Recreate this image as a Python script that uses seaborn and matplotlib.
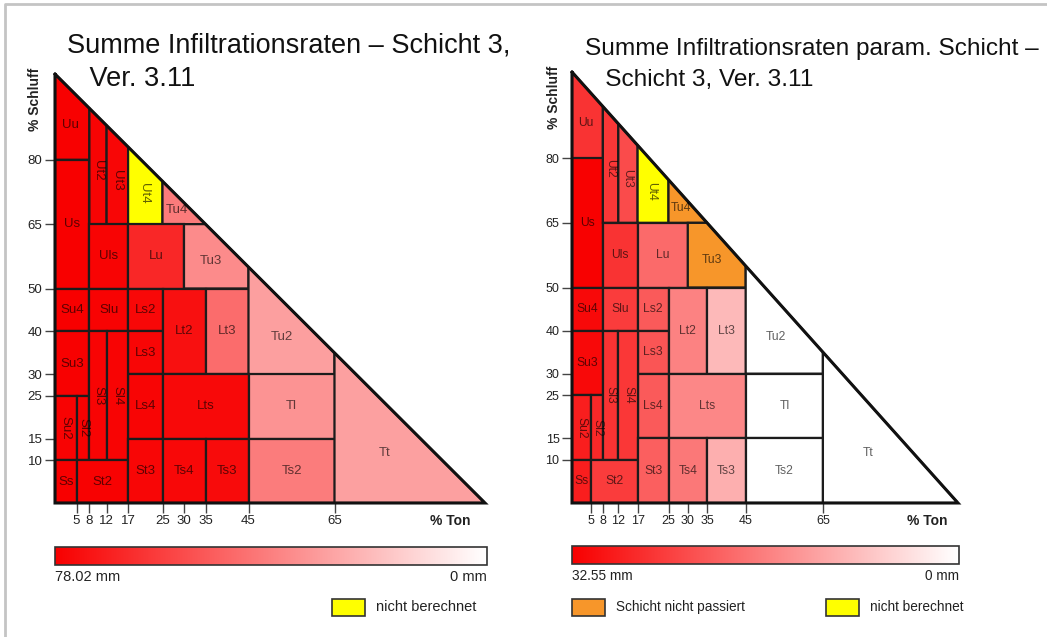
import numpy as np
import matplotlib
matplotlib.use("Agg")
import matplotlib.pyplot as plt
from matplotlib.patches import Polygon, Rectangle
from matplotlib.lines import Line2D
from matplotlib.cm import ScalarMappable
import seaborn as sns

# --- soil texture classes (KA5): clay (% Ton) on x, silt (% Schluff) on y ---
classes = ["Uu", "Us", "Ut2", "Ut3", "Ut4", "Tu4", "Uls", "Lu", "Tu3",
           "Su4", "Slu", "Ls2", "Ls3", "Ls4", "Lt2", "Lt3", "Tu2",
           "Su3", "Su2", "Sl2", "Sl3", "Sl4", "Ss", "St2", "St3",
           "Lts", "Ts4", "Ts3", "Tl", "Ts2", "Tt"]
clay_lo = [0, 0, 8, 12, 17, 25, 8, 17, 30, 0, 8, 17, 17, 17, 25, 35, 45,
           0, 0, 5, 8, 12, 0, 5, 17, 25, 25, 35, 45, 45, 65]
clay_hi = [8, 8, 12, 17, 25, 35, 17, 30, 45, 8, 17, 25, 25, 25, 35, 45, 65,
           8, 5, 8, 12, 17, 5, 17, 25, 45, 35, 45, 65, 65, 100]
silt_lo = [80, 50, 65, 65, 65, 65, 50, 50, 50, 40, 40, 40, 30, 15, 30, 30, 30,
           25, 10, 10, 10, 10, 0, 0, 0, 15, 0, 0, 15, 0, 0]
silt_hi = [100, 80, 100, 100, 100, 100, 65, 65, 65, 50, 50, 50, 40, 30, 50, 50, 100,
           40, 25, 25, 40, 40, 10, 10, 15, 30, 15, 15, 30, 15, 100]
vertical_labels = ["Ut2", "Ut3", "Ut4", "Su2", "Sl2", "Sl3", "Sl4"]

clay_ticks = [5, 8, 12, 17, 25, 30, 35, 45, 65]
silt_ticks = [10, 15, 25, 30, 40, 50, 65, 80]

# --- summed infiltration per class in mm (nan = not computed / layer not passed) ---
nan = np.nan
infil_total = [77.5, 78.0, 76.8, 76.0, nan, 40.5, 76.5, 66.0, 35.5,
               77.8, 77.0, 75.5, 76.0, 76.2, 73.0, 45.0, 29.5,
               77.6, 77.0, 77.2, 76.8, 76.5, 77.9, 77.3, 76.0,
               75.0, 75.5, 74.5, 33.0, 40.0, 29.0]
infil_total_max = 78.02
not_computed_total = ["Ut4"]
not_passed_total = []

infil_param = [26.0, 32.3, 25.5, 23.0, nan, nan, 26.0, 19.0, nan,
               31.3, 24.9, 21.0, 21.7, 21.0, 16.0, 9.0, 0.0,
               31.3, 28.7, 27.4, 26.0, 25.5, 28.7, 24.9, 20.4,
               15.3, 17.2, 10.2, 0.0, 0.0, 0.0]
infil_param_max = 32.55
not_computed_param = ["Ut4"]
not_passed_param = ["Tu4", "Tu3"]

YELLOW = "#FFFF00"
ORANGE = "#F7962A"
EDGE = "#1c1c1c"

sns.set_theme(style="white")
plt.rcParams["font.family"] = ["Liberation Sans", "DejaVu Sans"]
cmap = sns.blend_palette(["#FFFFFF", "#F80000"], as_cmap=True)

W, H = 1047, 637
fig = plt.figure(figsize=(W / 100, H / 100), dpi=100)
fig.patch.set_facecolor("white")


def fx(x):
    return x / W


def fy(y):
    return 1 - y / H


def clip_rect(x0, x1, y0, y1):
    """Rectangle cut by the triangle's hypotenuse (clay + silt <= 100)."""
    pts = [(x0, y0), (x1, y0), (x1, y1), (x0, y1)]
    out = []
    for i in range(4):
        p, q = pts[i], pts[(i + 1) % 4]
        fp, fq = p[0] + p[1] - 100, q[0] + q[1] - 100
        if fp <= 0:
            out.append(p)
        if fp * fq < 0:
            t = fp / (fp - fq)
            out.append((p[0] + t * (q[0] - p[0]), p[1] + t * (q[1] - p[1])))
    return np.array(out, dtype=float)


def centroid(P):
    x, y = P[:, 0], P[:, 1]
    xs, ys = np.roll(x, -1), np.roll(y, -1)
    c = x * ys - xs * y
    a = c.sum() / 2
    return (x + xs) @ c / (6 * a), (y + ys) @ c / (6 * a)


def draw_panel(rect_px, values, vmax, not_computed, not_passed,
               title, title_fs, title_ls, lab_fs, tick_fs, bar_px, txt_fs,
               legend_items):
    x0, y0, x1, y1 = rect_px
    ax = fig.add_axes([fx(x0), fy(y1), (x1 - x0) / W, (y1 - y0) / H])
    ax.set_facecolor("none")
    norm = plt.Normalize(0, vmax)
    for i, name in enumerate(classes):
        P = clip_rect(clay_lo[i], clay_hi[i], silt_lo[i], silt_hi[i])
        if name in not_computed:
            fc = YELLOW
        elif name in not_passed:
            fc = ORANGE
        else:
            fc = cmap(norm(values[i]))
        ax.add_patch(Polygon(P, closed=True, facecolor=fc, edgecolor=EDGE,
                             linewidth=1.6, joinstyle="miter"))
        cx, cy = centroid(P)
        ax.text(cx, cy, name, ha="center", va="center", fontsize=lab_fs,
                rotation=270 if name in vertical_labels else 0,
                color="black", alpha=0.62)
    ax.plot([0, 0, 100, 0], [100, 0, 0, 100], color="#111111", lw=2.2,
            clip_on=False, solid_joinstyle="miter")
    ax.set_xlim(0, 100)
    ax.set_ylim(0, 100)
    ax.set_xticks(clay_ticks)
    ax.set_yticks(silt_ticks)
    ax.tick_params(direction="out", length=7.5, width=1.0, color="#444444",
                   labelsize=tick_fs, labelcolor="#222222", pad=1.5,
                   bottom=True, left=True)
    sns.despine(ax=ax, left=True, bottom=True)
    ax.grid(False)
    ax.text(92, -4.2, "% Ton", ha="center", va="center", fontsize=10,
            fontweight="bold", color="#222222", clip_on=False)
    ax.text(-4.6, 94, "% Schluff", ha="center", va="center", fontsize=10,
            fontweight="bold", color="#222222", rotation=90, clip_on=False)

    # two-line title; the anchor is the baseline of the second line
    fig.text(fx(title[0]), fy(title[1]), title[2], ha="left", va="baseline",
             fontsize=title_fs, color="#111111", linespacing=title_ls)

    bx0, by0, bx1, by1 = bar_px
    cax = fig.add_axes([fx(bx0), fy(by1), (bx1 - bx0) / W, (by1 - by0) / H])
    cb = fig.colorbar(ScalarMappable(norm=norm, cmap=cmap), cax=cax,
                      orientation="horizontal")
    cax.invert_xaxis()
    cb.set_ticks([])
    cb.outline.set_edgecolor("#333333")
    cb.outline.set_linewidth(1.2)
    fig.text(fx(bx0), fy(by1 + 12), f"{vmax:.2f} mm", ha="left", va="center",
             fontsize=txt_fs, color="#222222")
    fig.text(fx(bx1), fy(by1 + 12), "0 mm", ha="right", va="center",
             fontsize=txt_fs, color="#222222")

    for lx, color, label in legend_items:
        fig.add_artist(Rectangle((fx(lx), fy(616)), 33 / W, 17 / H,
                                 transform=fig.transFigure, facecolor=color,
                                 edgecolor="#333333", linewidth=1.2))
        fig.text(fx(lx + 44), fy(607), label, ha="left", va="center",
                 fontsize=txt_fs, color="#222222")


draw_panel((55, 74, 485, 503), infil_total, infil_total_max,
           not_computed_total, not_passed_total,
           (67, 86, "Summe Infiltrationsraten – Schicht 3,\n   Ver. 3.11"),
           19.5, 1.36, 9.5, 9.5, (55, 547, 487, 565), 10.5,
           [(332, YELLOW, "nicht berechnet")])

draw_panel((572, 72, 958, 503), infil_param, infil_param_max,
           not_computed_param, not_passed_param,
           (585, 86, "Summe Infiltrationsraten param. Schicht –\n   Schicht 3, Ver. 3.11"),
           17.6, 1.5, 8.7, 9.0, (572, 546, 959, 564), 9.8,
           [(572, ORANGE, "Schicht nicht passiert"),
            (826, YELLOW, "nicht berechnet")])

# light grey frame along the top and left border
fig.add_artist(Line2D([fx(5), fx(5), fx(1047)], [fy(637), fy(4), fy(4)],
                      transform=fig.transFigure, color="#c4c4c4", lw=2))

fig.savefig("out.png", dpi=100)
